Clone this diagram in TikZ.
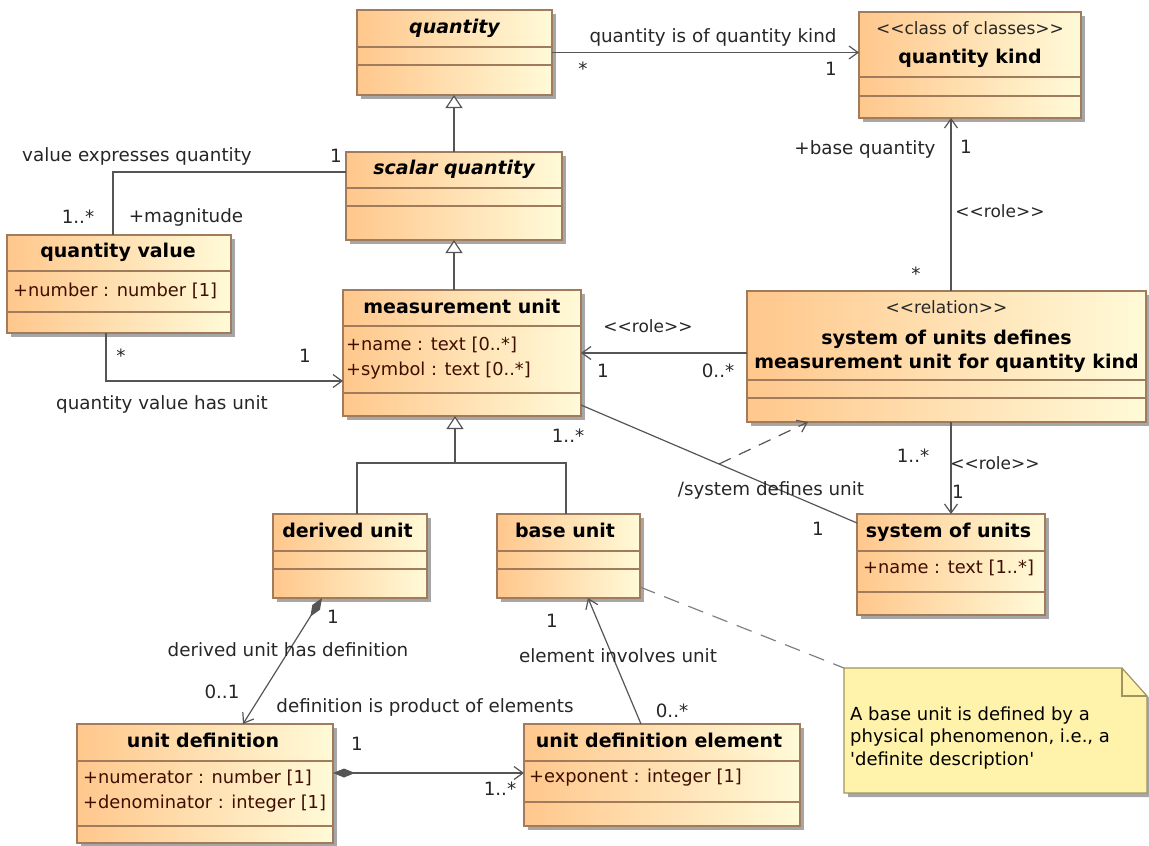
\documentclass[tikz,border=0pt]{standalone}
\usepackage{fontspec}
\newfontfamily\umlfont{DejaVu Sans}
\usetikzlibrary{arrows.meta,shadows,calc}

\definecolor{clsleft}{HTML}{FFC78C}
\definecolor{clsright}{HTML}{FFFAD8}
\definecolor{clsborder}{HTML}{A07C5C}
\definecolor{attrtext}{HTML}{3E0E00}
\definecolor{notefill}{HTML}{FFF2AA}
\definecolor{noteborder}{HTML}{A09464}
\definecolor{linegray}{HTML}{555555}

\tikzset{
  cls/.style={draw=clsborder, line width=1.2pt, left color=clsleft, right color=clsright,
    inner sep=0pt, outer sep=0pt,
    drop shadow={shadow xshift=4pt, shadow yshift=-4pt, fill=black!35, opacity=1}},
  part/.style={draw=clsborder, line width=1.2pt},
  clsname/.style={font=\umlfont\bfseries\fontsize{19}{24}\selectfont, inner sep=0pt,
    text height=14pt, text depth=4pt},
  clstitle/.style={font=\umlfont\bfseries\fontsize{19}{24}\selectfont, inner sep=0pt, align=center},
  stereo/.style={font=\umlfont\fontsize{17}{21}\selectfont, inner sep=0pt, text=black!85,
    text height=13pt, text depth=4pt},
  attr/.style={font=\umlfont\fontsize{17.8}{24.5}\selectfont, inner sep=0pt, text=attrtext,
    align=left, anchor=west},
  lbl/.style={font=\umlfont\fontsize{18.3}{22}\selectfont, inner sep=0pt, text=black!85,
    text height=13.5pt, text depth=4pt},
  assoc/.style={draw=linegray, line width=1.2pt},
  navi/.style={assoc, -{Straight Barb[length=9pt,width=13pt,line width=1.2pt]}},
  gen/.style={assoc, -{Triangle[open,length=13pt,width=17pt,fill=white,line width=1.2pt]}},
  comp/.style={assoc, {Diamond[length=22pt,width=9pt,fill=linegray]}-{Straight Barb[length=9pt,width=13pt,line width=1.2pt]}},
  derive/.style={navi, dash pattern=on 13pt off 9pt},
  noteline/.style={draw=black!50, line width=1.2pt, dash pattern=on 16pt off 10pt},
  notebox/.style={inner sep=0pt, outer sep=0pt, minimum width=303pt, minimum height=125pt},
  notetext/.style={font=\umlfont\fontsize{18}{22.5}\selectfont, inner sep=0pt, align=left, anchor=west}
}

\begin{document}
\begin{tikzpicture}[x=1pt,y=-1pt]
\useasboundingbox (0,0) rectangle (1149,846);

% classes, top row
\node[cls, minimum width=195pt, minimum height=85pt] (quantity) at (454.5,52.5) {};
\draw[part] ([yshift=-37pt]quantity.north west) -- ([yshift=-37pt]quantity.north east);
\draw[part] ([yshift=-55pt]quantity.north west) -- ([yshift=-55pt]quantity.north east);
\node[clsname] (quantityN) at (454.5,28) {\itshape quantity};

\node[cls, minimum width=222pt, minimum height=106pt] (qkind) at (970,65) {};
\draw[part] ([yshift=-65pt]qkind.north west) -- ([yshift=-65pt]qkind.north east);
\draw[part] ([yshift=-84pt]qkind.north west) -- ([yshift=-84pt]qkind.north east);
\node[stereo] (qkindS) at (970,30) {<<class of classes>>};
\node[clsname] (qkindN) at (970,58) {quantity kind};

\node[cls, minimum width=216pt, minimum height=88pt] (sq) at (454,196) {};
\draw[part] ([yshift=-36pt]sq.north west) -- ([yshift=-36pt]sq.north east);
\draw[part] ([yshift=-54pt]sq.north west) -- ([yshift=-54pt]sq.north east);
\node[clsname] (sqN) at (454,169) {\itshape scalar quantity};

\node[cls, minimum width=224pt, minimum height=98pt] (qv) at (119,284) {};
\draw[part] ([yshift=-36pt]qv.north west) -- ([yshift=-36pt]qv.north east);
\draw[part] ([yshift=-77pt]qv.north west) -- ([yshift=-77pt]qv.north east);
\node[clsname] (qvN) at (118,252) {quantity value};
\node[attr] (qvA) at (13,291) {+number : number [1]};

% classes, middle row
\node[cls, minimum width=238pt, minimum height=126pt] (mu) at (462,353) {};
\draw[part] ([yshift=-36pt]mu.north west) -- ([yshift=-36pt]mu.north east);
\draw[part] ([yshift=-103pt]mu.north west) -- ([yshift=-103pt]mu.north east);
\node[clsname] (muN) at (462,308) {measurement unit};
\node[attr] (muA) at (346,358) {+name : text [0..*]\\+symbol : text [0..*]};

\node[cls, minimum width=399pt, minimum height=131pt] (relation) at (946.5,356.5) {};
\draw[part] ([yshift=-89pt]relation.north west) -- ([yshift=-89pt]relation.north east);
\draw[part] ([yshift=-107pt]relation.north west) -- ([yshift=-107pt]relation.north east);
\node[stereo] (relationS) at (946.5,309) {<<relation>>};
\node[clstitle] (relationN) at (946.5,351) {system of units defines\\measurement unit for quantity kind};

% classes, lower rows
\node[cls, minimum width=154pt, minimum height=84pt] (du) at (350,556) {};
\draw[part] ([yshift=-37pt]du.north west) -- ([yshift=-37pt]du.north east);
\draw[part] ([yshift=-55pt]du.north west) -- ([yshift=-55pt]du.north east);
\node[clsname] (duN) at (347.5,532) {derived unit};

\node[cls, minimum width=143pt, minimum height=84pt] (bu) at (568.5,556) {};
\draw[part] ([yshift=-37pt]bu.north west) -- ([yshift=-37pt]bu.north east);
\draw[part] ([yshift=-55pt]bu.north west) -- ([yshift=-55pt]bu.north east);
\node[clsname] (buN) at (565,532) {base unit};

\node[cls, minimum width=188pt, minimum height=101pt] (sou) at (951,564.5) {};
\draw[part] ([yshift=-37pt]sou.north west) -- ([yshift=-37pt]sou.north east);
\draw[part] ([yshift=-78pt]sou.north west) -- ([yshift=-78pt]sou.north east);
\node[clsname] (souN) at (948.5,532) {system of units};
\node[attr] (souA) at (863,568) {+name : text [1..*]};

\node[cls, minimum width=256pt, minimum height=119pt] (ud) at (205,783.5) {};
\draw[part] ([yshift=-37pt]ud.north west) -- ([yshift=-37pt]ud.north east);
\draw[part] ([yshift=-102pt]ud.north west) -- ([yshift=-102pt]ud.north east);
\node[clsname] (udN) at (203,742) {unit definition};
\node[attr] (udA) at (83,791) {+numerator : number [1]\\+denominator : integer [1]};

\node[cls, minimum width=276pt, minimum height=102pt] (ude) at (662,775) {};
\draw[part] ([yshift=-37pt]ude.north west) -- ([yshift=-37pt]ude.north east);
\draw[part] ([yshift=-78pt]ude.north west) -- ([yshift=-78pt]ude.north east);
\node[clsname] (udeN) at (659,742) {unit definition element};
\node[attr] (udeA) at (529,778) {+exponent : integer [1]};

% note
\node[notebox] (note) at (995.5,730.5) {};
\draw[draw=noteborder, fill=notefill, line width=1.2pt,
  drop shadow={shadow xshift=4pt, shadow yshift=-4pt, fill=black!35, opacity=1}]
  (note.north west) -- ([xshift=-25pt]note.north east) -- ([yshift=-28pt]note.north east)
  -- (note.south east) -- (note.south west) -- cycle;
\draw[draw=noteborder, line width=1.2pt] ([xshift=-25pt]note.north east)
  -- ([xshift=-25pt,yshift=-28pt]note.north east) -- ([yshift=-28pt]note.north east);
\node[notetext] (noteT) at ([xshift=6pt,yshift=-7.5pt]note.west)
  {A base unit is defined by a\\physical phenomenon, i.e., a\\\textquotesingle definite description\textquotesingle};

% associations
\draw[navi] (quantity.east) -- (quantity.east -| qkind.west);
\node[lbl] (lIsKind) at (713,38) {quantity is of quantity kind};
\node[lbl] (mQk1) at (583,71) {*};
\node[lbl] (mQk2) at (831,71) {1};

\draw[navi] (relation.north -| sou.north) -- (qkind.south -| sou.north);
\node[lbl] (lBase) at (865,150) {+base quantity};
\node[lbl] (mBase1) at (966,149) {1};
\node[stereo] (rRole1) at (1000,213) {<<role>>};
\node[lbl] (mBase2) at (916,276) {*};

\draw[navi] (relation.west |- mu.east) -- (mu.east);
\node[stereo] (rRole2) at (648,328) {<<role>>};
\node[lbl] (mMu1) at (603,373) {1};
\node[lbl] (mMu2) at (718,373) {0..*};

\draw[navi] (relation.south -| sou.north) -- (sou.north);
\node[lbl] (mSou1) at (913,458) {1..*};
\node[stereo] (rRole3) at (995,465) {<<role>>};
\node[lbl] (mSou2) at (958,494) {1};

\coordinate (muSE) at ([yshift=-52pt]mu.east);
\coordinate (souW) at ([yshift=41.5pt]sou.west);
\draw[assoc] (muSE) -- (souW);
\draw[derive] ($(muSE)!0.5!(souW)$) -- ([xshift=-138.5pt]relation.south);
\node[lbl] (lSysDef) at (771,491) {/system defines unit};
\node[lbl] (mSd1) at (568,438) {1..*};
\node[lbl] (mSd2) at (818,531) {1};

\draw[navi] ([xshift=-13pt]qv.south) |- ([yshift=-28pt]mu.west);
\node[lbl] (lHasUnit) at (162,405) {quantity value has unit};
\node[lbl] (mHu1) at (121,358) {*};
\node[lbl] (mHu2) at (305,358) {1};

\draw[assoc] ([xshift=-6pt]qv.north) |- ([yshift=24pt]sq.west);
\node[lbl] (lExpr) at (137,157) {value expresses quantity};
\node[lbl] (mEx1) at (336,158) {1};
\node[lbl] (mEx2) at (78,219) {1..*};
\node[lbl] (rMag) at (186,218) {+magnitude};

% generalizations
\draw[gen] (sq.north) -- (sq.north |- quantity.south);
\draw[gen] (sq.south |- mu.north) -- (sq.south);
\coordinate (genJ) at (455,463);
\draw[gen] ([xshift=7pt]du.north) |- (genJ) -- (genJ |- mu.south);
\draw[assoc] ([xshift=-2.5pt]bu.north) |- (genJ);

% definitions
\draw[comp] ([xshift=-28pt]du.south) -- ([xshift=38pt]ud.north);
\node[lbl] (lHasDef) at (288,652) {derived unit has definition};
\node[lbl] (mHd1) at (333,619) {1};
\node[lbl] (mHd2) at (222,694) {0..1};

\draw[comp] ([yshift=10.5pt]ud.east) -- ([yshift=2pt]ude.west);
\node[lbl] (lProd) at (425,708) {definition is product of elements};
\node[lbl] (mPr1) at (357,746) {1};
\node[lbl] (mPr2) at (500,791) {1..*};

\draw[navi] ([xshift=-21pt]ude.north) -- ([xshift=19.5pt]bu.south);
\node[lbl] (lInv) at (618,658) {element involves unit};
\node[lbl] (mIn1) at (552,623) {1};
\node[lbl] (mIn2) at (672,713) {0..*};

\draw[noteline] ([yshift=-31pt]bu.east) -- (note.north west);
\end{tikzpicture}
\end{document}
